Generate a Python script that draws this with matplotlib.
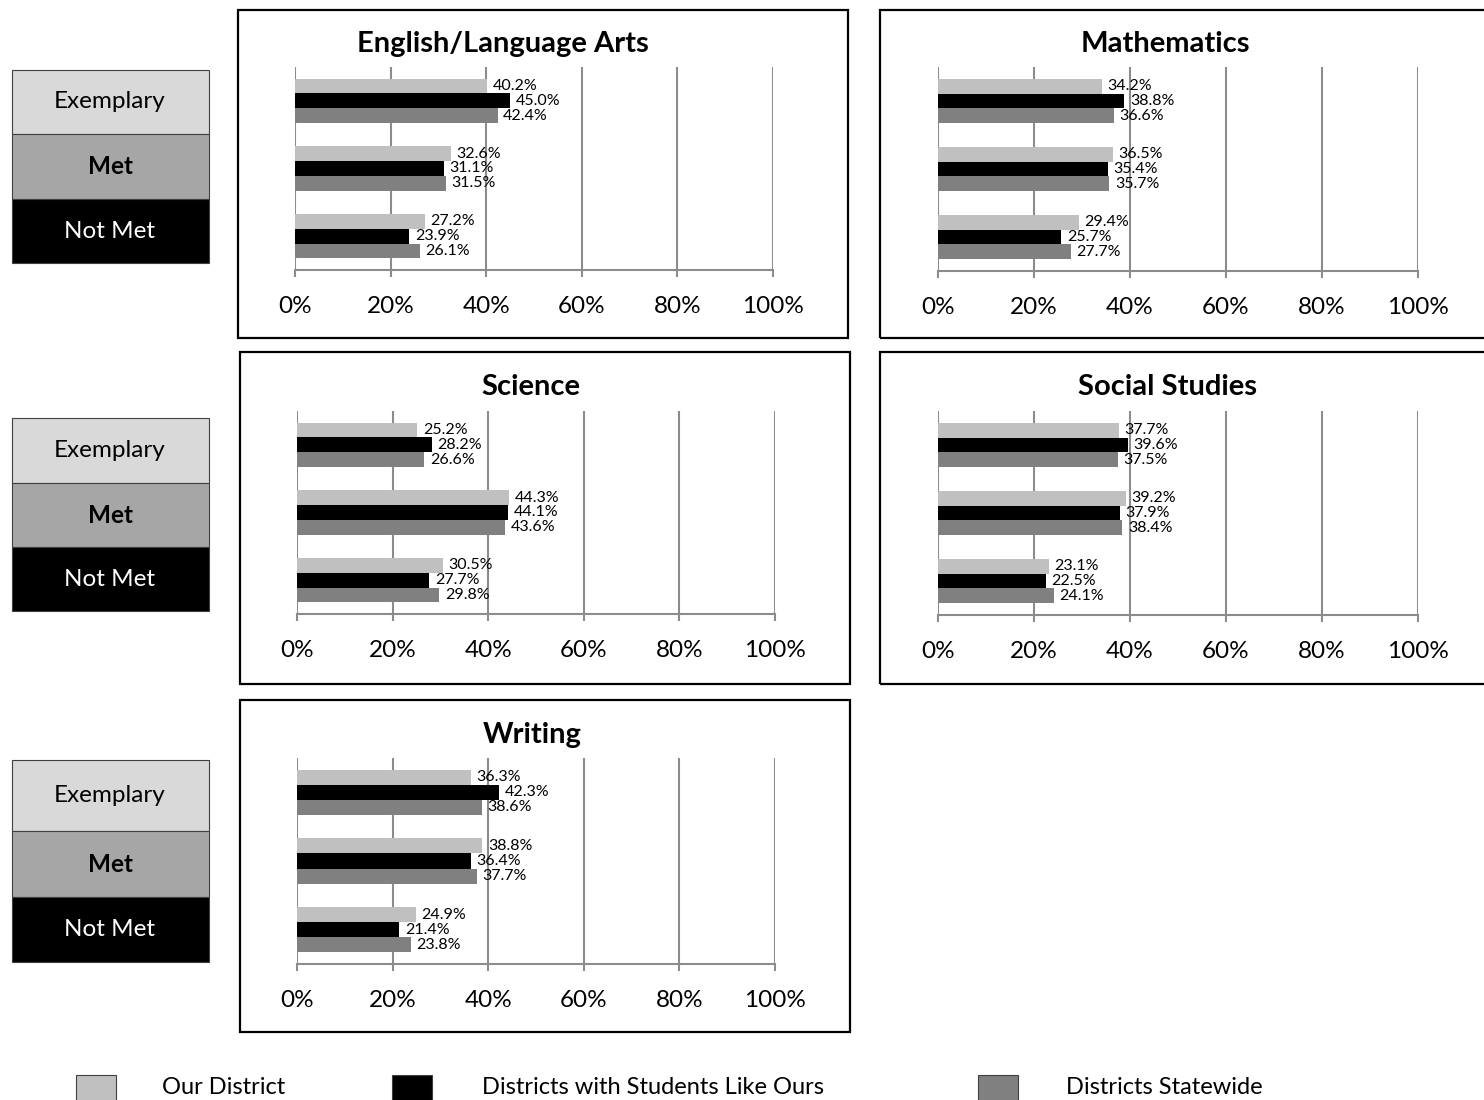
import matplotlib
matplotlib.use("Agg")
import numpy as np
from matplotlib import pyplot as plt
from matplotlib.patches import Rectangle

plt.rcParams['font.family'] = ['Lato', 'DejaVu Sans']

# data
subjects = ["English/Language Arts", "Mathematics", "Science",
            "Social Studies", "Writing"]
levels = ["Exemplary", "Met", "Not Met"]
series_names = ["Our District", "Districts with Students Like Ours",
                "Districts Statewide"]
our_district = [[40.2, 32.6, 27.2], [34.2, 36.5, 29.4], [25.2, 44.3, 30.5],
                [37.7, 39.2, 23.1], [36.3, 38.8, 24.9]]
similar_districts = [[45.0, 31.1, 23.9], [38.8, 35.4, 25.7], [28.2, 44.1, 27.7],
                     [39.6, 37.9, 22.5], [42.3, 36.4, 21.4]]
statewide = [[42.4, 31.5, 26.1], [36.6, 35.7, 27.7], [26.6, 43.6, 29.8],
             [37.5, 38.4, 24.1], [38.6, 37.7, 23.8]]
ticks = [0, 20, 40, 60, 80, 100]

series_colors = ["#c0c0c0", "#000000", "#808080"]
level_colors = ["#d9d9d9", "#a6a6a6", "#000000"]
level_text = ["black", "black", "white"]
grid_color = "#8c8c8c"

W, H = 1484, 1100
fig = plt.figure(figsize=(W / 100, H / 100), dpi=100)


def fx(x):
    return x / W


def fy(y):
    return 1 - y / H


def px_rect(x0, y0, x1, y1):
    return [fx(x0), fy(y1), (x1 - x0) / W, (y1 - y0) / H]


# layout in pixels: frame box, axes area, title centre
panels = [
    dict(box=(238, 10, 848, 338), ax=(295, 67, 773, 270), title=(503, 42)),
    dict(box=(880, 10, 1490, 338), ax=(938, 67, 1418, 271), title=(1165, 42)),
    dict(box=(240, 352, 850, 684), ax=(297, 411, 775, 614), title=(531, 385)),
    dict(box=(880, 352, 1490, 684), ax=(938, 411, 1418, 615), title=(1168, 385)),
    dict(box=(240, 700, 850, 1032), ax=(297, 758, 775, 964), title=(532, 733)),
]

for i, p in enumerate(panels):
    bx = p["box"]
    fig.patches.append(Rectangle((fx(bx[0]), fy(bx[3])), (bx[2] - bx[0]) / W,
                                 (bx[3] - bx[1]) / H, transform=fig.transFigure,
                                 facecolor="none", edgecolor="black", lw=1.6))
    fig.text(fx(p["title"][0]), fy(p["title"][1] + 2), subjects[i], ha="center",
             va="center", fontsize=21, fontweight="bold")

    ax = fig.add_axes(px_rect(*p["ax"]))
    y = np.arange(len(levels))
    h = 0.22
    for s, vals in enumerate([our_district[i], similar_districts[i], statewide[i]]):
        pos = y + (s - 1) * h
        ax.barh(pos, vals, height=h, color=series_colors[s], zorder=3)
        for yy, v in zip(pos, vals):
            ax.annotate(f"{v:.1f}%", (v, yy), xytext=(4, 0),
                        textcoords="offset points", ha="left", va="center",
                        fontsize=11.5, zorder=4)
    ax.set_xlim(0, 100)
    ax.set_ylim(len(levels) - 0.5, -0.5)
    ax.set_xticks(ticks)
    ax.set_xticklabels([f"{t}%" for t in ticks])
    ax.set_yticks([])
    ax.grid(axis="x", color=grid_color, lw=1.5, zorder=0)
    for side in ["top", "left", "right"]:
        ax.spines[side].set_visible(False)
    ax.spines["bottom"].set_color(grid_color)
    ax.spines["bottom"].set_linewidth(1.5)
    ax.tick_params(axis="x", colors=grid_color, width=1.5, length=5, pad=14,
                   labelsize=17.5, labelcolor="black")
    ax.set_facecolor("none")

# level key boxes on the left
key_rows = [(70, 134, 199, 263), (418, 483, 547, 611), (760, 831, 897, 962)]
for edges in key_rows:
    for k in range(3):
        y0, y1 = edges[k], edges[k + 1]
        fig.patches.append(Rectangle((fx(12), fy(y1)), 197 / W, (y1 - y0) / H,
                                     transform=fig.transFigure,
                                     facecolor=level_colors[k],
                                     edgecolor="#404040", lw=0.8))
        fig.text(fx(110), fy((y0 + y1) / 2), levels[k], ha="center",
                 va="center", fontsize=17.5, color=level_text[k],
                 fontweight="bold" if k == 1 else "normal")

# legend along the bottom
legend_sq = [76, 392, 978]
legend_tx = [162, 482, 1066]
for s in range(3):
    fig.patches.append(Rectangle((fx(legend_sq[s]), fy(1110)), 40 / W, 35 / H,
                                 transform=fig.transFigure,
                                 facecolor=series_colors[s],
                                 edgecolor="#404040", lw=0.8))
    fig.text(fx(legend_tx[s]), fy(1087), series_names[s], ha="left",
             va="center", fontsize=17)

fig.savefig("out.png", dpi=100)
